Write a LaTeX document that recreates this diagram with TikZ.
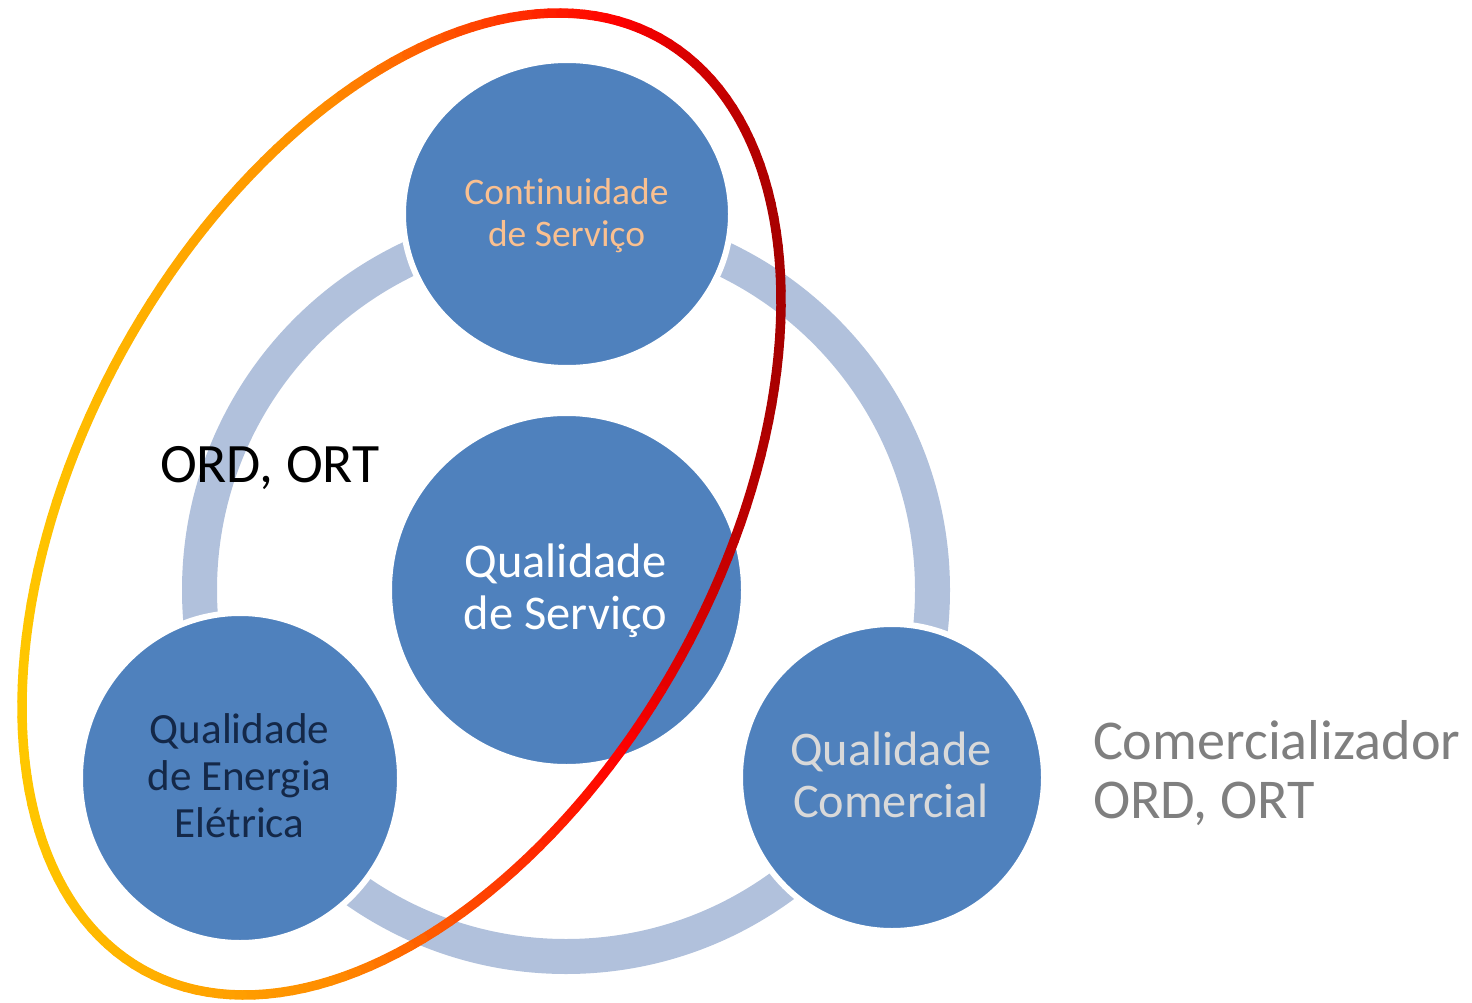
\documentclass[tikz,border=0pt]{standalone}
\usepackage{fontspec}
\setmainfont[Ligatures=NoCommon,RawFeature=-liga]{Carlito}
\usetikzlibrary{shapes.geometric}
\definecolor{cblue}{RGB}{79,129,189}
\definecolor{cring}{RGB}{177,193,220}
\definecolor{corange}{RGB}{250,192,144}
\definecolor{cnavy}{RGB}{20,40,72}
\definecolor{clgray}{RGB}{217,217,217}
\definecolor{cgray}{RGB}{127,127,127}
\begin{document}
\begin{tikzpicture}[x=1pt,y=-1pt,
  bubble/.style={ellipse, fill=cblue, draw=white, line width=6pt, inner sep=0pt},
  lbl/.style={anchor=base, inner sep=0pt, outer sep=0pt},
  lblw/.style={anchor=base west, inner sep=0pt, outer sep=0pt}]
\useasboundingbox (0,0) rectangle (1472,1003);
% ring
\draw[cring, line width=35pt] (566,590) circle[radius=366.5pt];
% bubbles
\node[bubble, minimum width=328pt, minimum height=308pt] (top) at (567,214) {};
\node[bubble, minimum width=355pt, minimum height=354pt] (mid) at (566.5,590) {};
\node[bubble, minimum width=320pt, minimum height=330pt] (bl) at (240,778) {};
\node[bubble, minimum width=304pt, minimum height=307pt] (br) at (892,777.5) {};
% texts
\node[lbl, text=corange, font=\fontsize{37.5}{40}\selectfont] (t1) at (566.5,205) {Continuidade};
\node[lbl, text=corange, font=\fontsize{37.5}{40}\selectfont] (t2) at (566.5,247) {de Serviço};
\node[lbl, text=white, font=\fontsize{48.5}{52}\selectfont] (m1) at (565.5,577) {Qualidade};
\node[lbl, text=white, font=\fontsize{48.5}{52}\selectfont] (m2) at (565.5,629) {de Serviço};
\node[lbl, text=cnavy, font=\fontsize{43.1}{47}\selectfont] (b1) at (239.5,743) {Qualidade};
\node[lbl, text=cnavy, font=\fontsize{43.1}{47}\selectfont] (b2) at (239.5,790) {de Energia};
\node[lbl, text=cnavy, font=\fontsize{43.1}{47}\selectfont] (b3) at (239.5,837) {Elétrica};
\node[lbl, text=clgray, font=\fontsize{48.3}{52}\selectfont] (r1) at (891,765) {Qualidade};
\node[lbl, text=clgray, font=\fontsize{48.3}{52}\selectfont] (r2) at (891,817) {Comercial};
\node[lblw, text=black, font=\fontsize{55.6}{60}\selectfont] (ord) at (160,482) {ORD, ORT};
\node[lblw, text=cgray, font=\fontsize{56.2}{60}\selectfont] (com1) at (1093,759) {Comercializador};
\node[lblw, text=cgray, font=\fontsize{56.2}{60}\selectfont] (com2) at (1093,818) {ORD, ORT};
% gradient ellipse
\foreach \t in {0,2,...,358}{
  \pgfmathsetmacro\xa{401.5+532.7*cos(\t)*0.4837+318.4*sin(\t)*0.8752}
  \pgfmathsetmacro\ya{504-532.7*cos(\t)*0.8752+318.4*sin(\t)*0.4837}
  \pgfmathsetmacro\xb{401.5+532.7*cos(\t+2)*0.4837+318.4*sin(\t+2)*0.8752}
  \pgfmathsetmacro\yb{504-532.7*cos(\t+2)*0.8752+318.4*sin(\t+2)*0.4837}
  \pgfmathsetmacro\xm{(\xa+\xb)/2}
  \pgfmathsetmacro\fa{min(max((\xm-20)/310,0),1)}
  \pgfmathsetmacro\fb{min(max((\xm-330)/290,0),1)}
  \pgfmathsetmacro\fc{min(max((\xm-620)/165,0),1)}
  \pgfmathtruncatemacro\rr{255-90*\fc}
  \pgfmathtruncatemacro\gg{max(200-60*\fa-140*\fb,0)}
  \definecolor{segcol}{RGB}{\rr,\gg,0}
  \draw[segcol, line width=9.5pt, line cap=round] (\xa,\ya) -- (\xb,\yb);
}
\end{tikzpicture}
\end{document}
